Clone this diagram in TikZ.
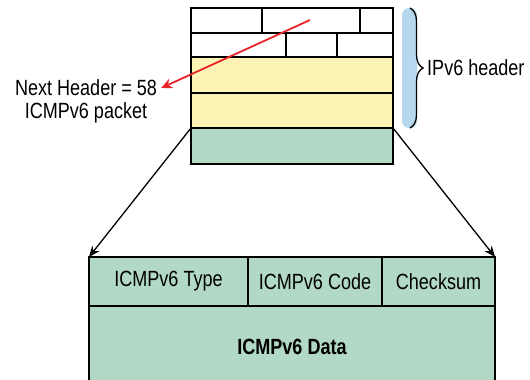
\documentclass[tikz,border=0pt]{standalone}
\usepackage{fontspec}
\setmainfont{Liberation Sans}[FakeStretch=0.82]
\usepackage{tikz}
\usetikzlibrary{arrows.meta, decorations.pathreplacing}

\definecolor{hdryellow}{HTML}{FCF3B5}
\definecolor{pktgreen}{HTML}{B2D8C6}
\definecolor{bracebl}{HTML}{B5D8EE}
\definecolor{nhred}{HTML}{E8232A}

\tikzset{
    row/.style={draw, line width=1.3pt, minimum width=202pt, inner sep=0pt, outer sep=0pt, anchor=north west},
    cell/.style={draw, line width=1.3pt, fill=pktgreen, inner sep=0pt, outer sep=0pt, anchor=north west},
    lbl/.style={font=\fontsize{22}{26}\selectfont, inner sep=0pt}
}

\begin{document}
\begin{tikzpicture}[x=1pt, y=-1pt]
    \clip (0,0) rectangle (530,380);
    % IPv6 header rows
    \node[row, minimum height=25pt] (r1) at (191,8) {};
    \node[row, minimum height=24pt] (r2) at (191,33) {};
    \node[row, fill=hdryellow, minimum height=36pt] (r3) at (191,57) {};
    \node[row, fill=hdryellow, minimum height=35pt] (r4) at (191,93) {};
    \node[row, fill=pktgreen, minimum height=36pt] (pl) at (191,128) {};
    % field dividers in the first two rows
    \foreach \x in {262, 360} {
        \draw[line width=1.3pt] (\x,8) -- (\x,33);
    }
    \foreach \x in {286, 337} {
        \draw[line width=1.3pt] (\x,33) -- (\x,57);
    }
    % brace over the header
    \fill[bracebl, rounded corners=7pt] (402,8) rectangle (417,128);
    \draw[line width=1.3pt, decorate, decoration={brace, amplitude=13pt}] (410,8) -- (410,128);
    \node[lbl, anchor=west] (ip) at (427,68) {IPv6 header};
    % next header label
    \node[lbl] (nh) at (86,88) {Next Header = 58};
    \node[lbl] (pkt) at (86,113) {ICMPv6 packet};
    \coordinate (nhsrc) at (310,20);
    \draw[nhred, line width=1.8pt, -{Stealth[length=11pt, width=10pt]}] (nhsrc) -- ([xshift=4pt]nh.east);
    % ICMPv6 packet fields
    \node[cell, minimum width=159pt, minimum height=49pt] (type) at (89,257) {};
    \node[cell, minimum width=134pt, minimum height=49pt] (code) at (248,257) {};
    \node[cell, minimum width=113pt, minimum height=49pt] (chk) at (382,257) {};
    \node[cell, minimum width=406pt, minimum height=80pt] (data) at (89,306) {};
    \node[lbl] at (type.center) {ICMPv6 Type};
    \node[lbl] at (code.center) {ICMPv6 Code};
    \node[lbl] at (chk.center) {Checksum};
    \node[lbl, font=\fontsize{22}{26}\selectfont\bfseries] at (292,347) {ICMPv6 Data};
    % expansion arrows
    \draw[line width=1.3pt, -{Stealth[length=11pt, width=9pt]}] (pl.north west) -- (type.north west);
    \draw[line width=1.3pt, -{Stealth[length=11pt, width=9pt]}] (pl.north east) -- (chk.north east);
\end{tikzpicture}
\end{document}
